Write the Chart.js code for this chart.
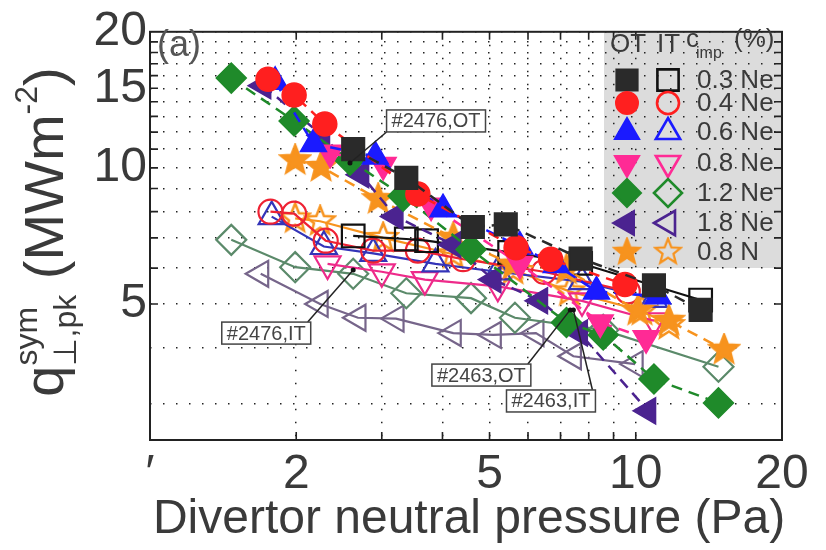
<!DOCTYPE html>
<html>
<head>
<meta charset="utf-8">
<script src="https://cdn.jsdelivr.net/npm/chart.js@4.4.1/dist/chart.umd.min.js"></script>
<style>
  html, body { margin: 0; background: #fff; }
</style>
</head>
<body>
<canvas id="chart" width="826" height="550"></canvas>
<script>
// ---- data (pressure in Pa, peak heat flux in MW/m2) ----
const ne03OTx = [2.62, 3.37, 4.62, 5.4, 7.7, 10.9, 13.6];
const ne03OTy = [11.0, 9.5, 7.4, 7.5, 6.3, 5.5, 4.85];
const ne03ITx = [2.62, 3.37, 3.71, 5.5, 7.7, 13.6];
const ne03ITy = [7.07, 6.96, 6.9, 6.5, 6.15, 5.1];

const ne04OTx = [1.75, 1.98, 2.29, 3.56, 5.67, 6.68, 9.5];
const ne04OTy = [15.7, 14.5, 12.5, 8.75, 6.66, 6.28, 5.52];
const ne04ITx = [1.77, 1.98, 2.3, 2.88, 3.56, 4.41, 6.47, 9.63];
const ne04ITy = [8.0, 7.92, 6.9, 6.56, 6.56, 6.28, 5.89, 5.33];

const ne06OTx = [1.81, 2.17, 2.91, 4.01, 5.77, 6.86, 8.3, 11.1];
const ne06OTy = [15.5, 11.3, 10.6, 8.1, 6.7, 6.1, 5.33, 5.2];
const ne06ITx = [1.78, 2.28, 2.88, 3.87, 5.2, 7.75, 10.9];
const ne06ITy = [7.8, 6.7, 6.47, 6.13, 5.89, 5.6, 5.12];

const ne08OTx = [2.35, 3.02, 3.79, 5.77, 8.45, 10.5];
const ne08OTy = [10.8, 10.15, 8.25, 6.13, 4.55, 4.2];
const ne08ITx = [2.32, 3.0, 3.68, 5.2, 7.75, 10.9];
const ne08ITy = [6.13, 5.89, 5.66, 5.47, 5.08, 4.59];

const ne12OTx = [1.47, 1.98, 2.58, 3.32, 4.58, 7.2, 8.57, 10.9, 14.8];
const ne12OTy = [15.8, 12.7, 10.4, 8.66, 6.6, 4.55, 4.27, 3.41, 3.02];
const ne12ITx = [1.47, 1.99, 2.62, 3.37, 4.58, 5.64, 8.57, 14.8];
const ne12ITy = [6.93, 6.03, 5.83, 5.28, 5.15, 4.66, 4.38, 3.63];

const ne18OTx = [1.71, 2.26, 2.72, 3.2, 4.21, 5.09, 6.35, 7.67, 10.6];
const ne18OTy = [15.2, 11.8, 9.66, 7.81, 6.76, 5.66, 5.08, 4.31, 2.9];
const ne18ITx = [1.69, 2.24, 2.68, 3.21, 4.21, 5.09, 6.23, 7.44, 9.97];
const ne18ITy = [5.83, 5.0, 4.66, 4.64, 4.31, 4.27, 4.31, 3.83, 3.68];

const n08OTx = [1.99, 2.25, 2.95, 4.21, 5.59, 7.2, 10.1, 11.7, 15.2];
const n08OTy = [10.4, 10.05, 8.53, 7.0, 6.11, 5.95, 4.83, 4.59, 3.96];
const n08ITx = [1.99, 2.24, 3.02, 4.21, 5.59, 7.3, 10.3, 11.7];
const n08ITy = [7.73, 7.62, 7.0, 6.44, 5.95, 5.33, 4.83, 4.49];

const seriesLabels = ['0.3 Ne', '0.4 Ne', '0.6 Ne', '0.8 Ne', '1.2 Ne', '1.8 Ne', '0.8 N'];

const xTicks = [1, 2, 3, 4, 5, 6, 7, 8, 9, 10, 20];
const xTickLabels = { 1: '\u2032', 2: '2', 5: '5', 10: '10', 20: '20' };
const yTicks = [3, 4, 5, 6, 7, 8, 9, 10, 11, 12, 13, 14, 15, 16, 17, 18, 19, 20];
const yTickLabels = { 5: '5', 10: '10', 15: '15', 20: '20' };

// shot annotations: [text, box centre x, y, target x, y]
const notes = [
  ['#2476,OT', 3.88, 12.7, 2.58, 10.25],
  ['#2476,IT', 1.735, 4.31, 2.62, 5.94],
  ['#2463,OT', 4.81, 3.48, 7.33, 4.85],
  ['#2463,IT', 6.69, 3.05, 7.44, 4.85]
];

// ---- styles ----
const FONT = '"Liberation Sans", Arial, sans-serif';
const TXT = '#3a3a3a';

function makeStar(filled) {
  const c = document.createElement('canvas');
  c.width = 34; c.height = 34;
  const g = c.getContext('2d');
  g.beginPath();
  for (let i = 0; i < 10; i++) {
    const r = i % 2 ? 6.5 : 15;
    const a = -Math.PI / 2 + i * Math.PI / 5;
    g.lineTo(17 + r * Math.cos(a), 17 + r * Math.sin(a));
  }
  g.closePath();
  if (filled) { g.fillStyle = '#f7931e'; g.fill(); }
  g.strokeStyle = '#f7931e';
  g.lineWidth = 2.5;
  g.stroke();
  return c;
}
const starFull = makeStar(true);
const starOpen = makeStar(false);

const otColors = ['#2a2a2a', '#ff1f1f', '#1a1aff', '#ff2a95', '#1f8a2a', '#4b2390', '#f7931e'];
const itColors = ['#111111', '#ee2233', '#3434b8', '#ee2a8a', '#5b8a6a', '#76658a', '#f7931e'];
const legendIT = ['#111111', '#ff1f1f', '#1a1aff', '#ff2a95', '#1f8a2a', '#4b2390', '#f7931e'];
const shapes = ['rect', 'circle', 'triangle', 'triangle', 'rectRot', 'triangle', 'star'];
const rotations = [0, 0, 0, 180, 0, -90, 0];
const radii = [16, 12, 15, 15, 15, 15, 15];

const otX = [ne03OTx, ne04OTx, ne06OTx, ne08OTx, ne12OTx, ne18OTx, n08OTx];
const otY = [ne03OTy, ne04OTy, ne06OTy, ne08OTy, ne12OTy, ne18OTy, n08OTy];
const itX = [ne03ITx, ne04ITx, ne06ITx, ne08ITx, ne12ITx, ne18ITx, n08ITx];
const itY = [ne03ITy, ne04ITy, ne06ITy, ne08ITy, ne12ITy, ne18ITy, n08ITy];

const toPoints = (xs, ys) => xs.map((x, i) => ({ x: x, y: ys[i] }));

const datasets = [];
seriesLabels.forEach((lab, i) => {
  datasets.push({
    label: lab + ' OT',
    data: toPoints(otX[i], otY[i]),
    showLine: true,
    borderColor: otColors[i],
    backgroundColor: otColors[i],
    borderWidth: 2.5,
    borderDash: [11, 7],
    pointStyle: shapes[i] === 'star' ? starFull : shapes[i],
    pointRotation: rotations[i],
    pointRadius: radii[i],
    pointBorderWidth: 1.5,
    order: 1
  });
});
seriesLabels.forEach((lab, i) => {
  datasets.push({
    label: lab + ' IT',
    data: toPoints(itX[i], itY[i]),
    showLine: true,
    borderColor: itColors[i],
    backgroundColor: 'rgba(0,0,0,0)',
    borderWidth: 2.2,
    pointStyle: shapes[i] === 'star' ? starOpen : shapes[i],
    pointRotation: rotations[i],
    pointRadius: radii[i],
    pointBorderWidth: 2.2,
    order: 2
  });
});

const decor = {
  id: 'decor',
  beforeDraw(chart) {
    const { ctx, chartArea: a } = chart;
    ctx.save();
    ctx.fillStyle = '#dcdcdc';
    ctx.fillRect(604, a.top, a.right - 604, 268 - a.top);
    ctx.restore();
  },
  afterDraw(chart) {
    const { ctx, chartArea: a } = chart;
    const xs = chart.scales.x, ys = chart.scales.y;
    ctx.save();

    // frame and inward ticks
    ctx.strokeStyle = '#222';
    ctx.lineWidth = 2;
    ctx.strokeRect(a.left, a.top, a.right - a.left, a.bottom - a.top);
    ctx.lineWidth = 1.6;
    ctx.beginPath();
    xTicks.slice(1, -1).forEach(v => {
      const px = xs.getPixelForValue(v);
      ctx.moveTo(px, a.bottom); ctx.lineTo(px, a.bottom - 8);
      ctx.moveTo(px, a.top); ctx.lineTo(px, a.top + 8);
    });
    yTicks.filter(v => v >= 5 && v < 20).forEach(v => {
      const py = ys.getPixelForValue(v);
      ctx.moveTo(a.left, py); ctx.lineTo(a.left + 8, py);
      ctx.moveTo(a.right, py); ctx.lineTo(a.right - 8, py);
    });
    ctx.stroke();

    // legend
    ctx.fillStyle = TXT;
    ctx.textBaseline = 'alphabetic';
    ctx.font = '26px ' + FONT;
    ctx.fillText('OT', 610, 52);
    ctx.fillText('IT', 657, 52);
    ctx.fillText('c', 686, 47);
    ctx.font = '16px ' + FONT;
    ctx.fillText('imp', 696, 58);
    ctx.font = '26px ' + FONT;
    ctx.fillText('(%)', 734, 47);
    const rowY = [80, 103, 132, 163, 193, 223, 252];
    seriesLabels.forEach((lab, i) => {
      const opt = { pointStyle: shapes[i], rotation: rotations[i], radius: radii[i] - 1, borderWidth: 2 };
      ctx.lineWidth = 2;
      if (shapes[i] === 'star') {
        ctx.drawImage(starFull, 627 - 15, rowY[i] - 15, 30, 30);
        ctx.drawImage(starOpen, 668 - 15, rowY[i] - 15, 30, 30);
      } else {
        ctx.fillStyle = otColors[i];
        ctx.strokeStyle = otColors[i];
        Chart.helpers.drawPoint(ctx, opt, 627, rowY[i]);
        ctx.fillStyle = 'rgba(0,0,0,0)';
        ctx.strokeStyle = legendIT[i];
        ctx.lineWidth = 2.6;
        Chart.helpers.drawPoint(ctx, Object.assign({}, opt, { borderWidth: 2.6 }), 668, rowY[i]);
      }
      ctx.fillStyle = TXT;
      ctx.font = '26px ' + FONT;
      ctx.textBaseline = 'middle';
      ctx.fillText(lab, 697, rowY[i] + 1);
    });

    // shot annotations
    ctx.font = '20px ' + FONT;
    ctx.textBaseline = 'middle';
    ctx.textAlign = 'center';
    notes.forEach(([t, bx, by, tx, ty]) => {
      const cx = xs.getPixelForValue(bx), cy = ys.getPixelForValue(by);
      const px = xs.getPixelForValue(tx), py = ys.getPixelForValue(ty);
      const w = ctx.measureText(t).width + 10, h = 22;
      const ex = px < cx ? cx - w / 2 : cx + w / 2 - 3;
      const ey = py < cy ? cy - h / 2 : cy + h / 2;
      ctx.strokeStyle = '#222';
      ctx.lineWidth = 1.5;
      ctx.beginPath(); ctx.moveTo(ex, ey); ctx.lineTo(px, py); ctx.stroke();
      ctx.fillStyle = '#111';
      ctx.beginPath(); ctx.arc(px, py, 2.5, 0, Math.PI * 2); ctx.fill();
      ctx.fillStyle = '#fff';
      ctx.fillRect(cx - w / 2, cy - h / 2, w, h);
      ctx.strokeStyle = '#444';
      ctx.strokeRect(cx - w / 2, cy - h / 2, w, h);
      ctx.fillStyle = '#444';
      ctx.fillText(t, cx, cy + 1);
    });

    // panel label
    ctx.textAlign = 'left';
    ctx.fillStyle = '#555';
    ctx.font = '36px ' + FONT;
    ctx.fillText('(a)', 157, 46);

    // x title
    ctx.fillStyle = TXT;
    ctx.textAlign = 'center';
    ctx.textBaseline = 'alphabetic';
    ctx.font = '48px ' + FONT;
    ctx.fillText('Divertor neutral pressure (Pa)', 469, 533);

    // y title, rotated
    ctx.translate(63, 232);
    ctx.rotate(-Math.PI / 2);
    ctx.textAlign = 'left';
    const big = '56px ' + FONT, small = '32px ' + FONT;
    const parts = [
      ['q', big, 0], ['sym', small, -26, 'sub'], ['\u22a5,pk', small, 13, 'subEnd'],
      [' (MWm', big, 0], ['-2', small, -26], [')', big, 0]
    ];
    let total = 0;
    const widths = parts.map(p => { ctx.font = p[1]; return ctx.measureText(p[0]).width; });
    parts.forEach((p, i) => {
      if (p[3] === 'sub') return;
      if (p[3] === 'subEnd') { total += Math.max(widths[i], widths[i - 1]); return; }
      total += widths[i];
    });
    let cur = -total / 2;
    parts.forEach((p, i) => {
      ctx.font = p[1];
      ctx.fillText(p[0], cur, p[2]);
      if (p[3] === 'sub') return;
      if (p[3] === 'subEnd') { cur += Math.max(widths[i], widths[i - 1]); return; }
      cur += widths[i];
    });
    ctx.restore();
  }
};

new Chart(document.getElementById('chart'), {
  type: 'scatter',
  data: { datasets: datasets },
  options: {
    responsive: false,
    animation: false,
    layout: { padding: { top: 20, right: 44, left: 0, bottom: 0 } },
    plugins: { legend: { display: false }, tooltip: { enabled: false } },
    scales: {
      x: {
        type: 'logarithmic',
        min: 1, max: 20,
        afterBuildTicks: s => { s.ticks = xTicks.map(v => ({ value: v })); },
        afterFit: s => { s.height = 110; },
        grid: { color: '#222', lineWidth: 1.5, drawTicks: false },
        border: { display: false, dash: [1.5, 11.5] },
        ticks: {
          autoSkip: false, maxRotation: 0, padding: 6,
          color: TXT, font: { family: FONT, size: 48 },
          callback: v => xTickLabels[v] || ''
        }
      },
      y: {
        type: 'logarithmic',
        min: 2.5, max: 20,
        afterBuildTicks: s => { s.ticks = yTicks.map(v => ({ value: v })); },
        afterFit: s => { s.width = 150; },
        grid: { color: '#222', lineWidth: 1.5, drawTicks: false },
        border: { display: false, dash: [1.5, 11.5] },
        ticks: {
          autoSkip: false, padding: 3,
          color: TXT, font: { family: FONT, size: 48 },
          callback: v => yTickLabels[v] || ''
        }
      }
    }
  },
  plugins: [decor]
});
</script>
</body>
</html>
